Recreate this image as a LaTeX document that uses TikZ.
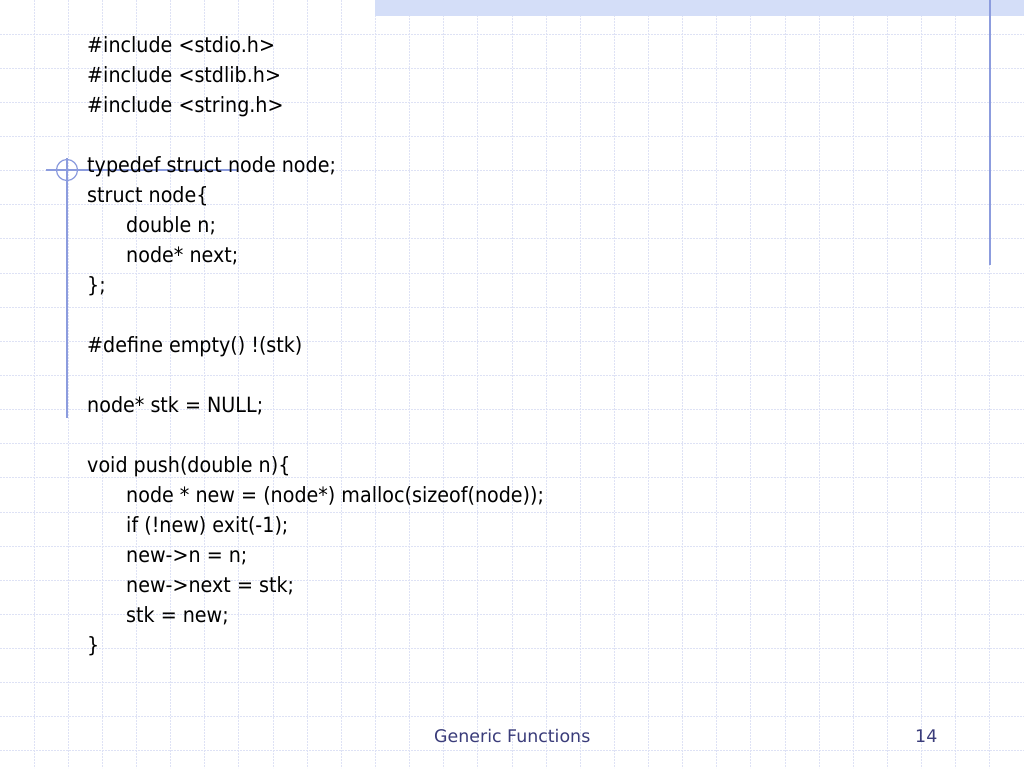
\documentclass[tikz,border=0pt]{standalone}
\usepackage{fontspec}
\setmainfont{DejaVu Sans}
\newfontfamily\codefont[FakeStretch=0.91]{DejaVu Sans}
\definecolor{gridc}{RGB}{222,226,245}
\definecolor{bandc}{RGB}{212,222,248}
\definecolor{accent}{RGB}{140,156,222}
\definecolor{footc}{RGB}{58,60,122}
\begin{document}
\begin{tikzpicture}[x=1pt,y=-1pt,
  code/.style={anchor=base west,inner sep=0pt,font=\codefont\fontsize{21}{25}\selectfont},
  foot/.style={anchor=base west,inner sep=0pt,text=footc,font=\fontsize{17.4}{20}\selectfont},
  gridline/.style={draw=gridc,line width=1pt,dash pattern=on 2pt off 1pt},
  accentline/.style={draw=accent,line width=1.5pt}]
\useasboundingbox[fill=white] (0,0) rectangle (1024,768);
% grid
\foreach \k in {1,...,29} {\draw[gridline] ({\k*34.133},0) -- ({\k*34.133},768);}
\foreach \k in {1,...,22} {\draw[gridline] (0,{\k*34.133}) -- (1024,{\k*34.133});}
% top band
\fill[bandc] (375,0) rectangle (1024,16);
% accent lines
\draw[accentline] (990,0) -- (990,265);
\draw[accentline,line width=1.2pt] (46,170) -- (237,170);
\draw[accentline,line width=1.2pt] (67,158) -- (67,418);
\draw[accentline,line width=1.2pt] (67,170) circle[radius=10.5];
% code
\node[code] (l0) at (87,52.5) {\#include <stdio.h>};
\node[code] (l1) at (87,82.5) {\#include <stdlib.h>};
\node[code] (l2) at (87,112.5) {\#include <string.h>};
\node[code] (l4) at (87,172.5) {typedef struct node node;};
\node[code] (l5) at (87,202.5) {struct node\{};
\node[code] (l6) at (126,232.5) {double n;};
\node[code] (l7) at (126,262.5) {node* next;};
\node[code] (l8) at (87,292.5) {\};};
\node[code] (l10) at (87,352.5) {\#define empty() !(stk)};
\node[code] (l12) at (87,412.5) {node* stk = NULL;};
\node[code] (l14) at (87,472.5) {void push(double n)\{};
\node[code] (l15) at (126,502.5) {node * new = (node*) malloc(sizeof(node));};
\node[code] (l16) at (126,532.5) {if (!new) exit(-1);};
\node[code] (l17) at (126,562.5) {new->n = n;};
\node[code] (l18) at (126,592.5) {new->next = stk;};
\node[code] (l19) at (126,622.5) {stk = new;};
\node[code] (l20) at (87,652.5) {\}};
% footer
\node[foot] (ft) at (434,742) {Generic Functions};
\node[foot] (pg) at (915,742) {14};
\end{tikzpicture}
\end{document}
